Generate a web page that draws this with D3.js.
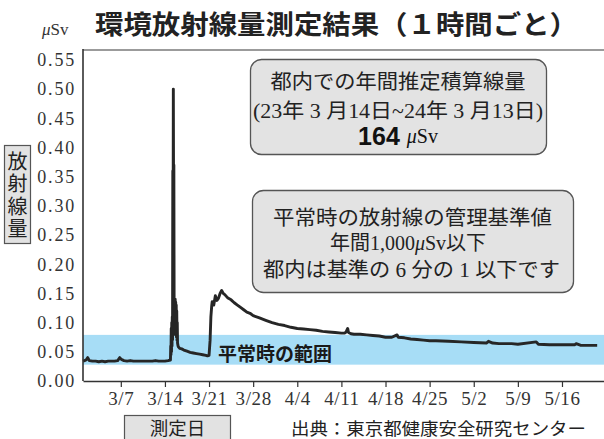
<!DOCTYPE html>
<html><head><meta charset="utf-8">
<script src="https://cdn.jsdelivr.net/npm/d3@7"></script>
<style>
html,body{margin:0;padding:0;background:#fff;}
svg{display:block;}
</style></head>
<body>
<svg id="chart" width="604" height="439"></svg>
<script>
// ---- data ----
const obsTimes = [
 "3/1 00","3/1 06","3/1 12","3/1 18","3/2 00","3/2 12","3/3 00","3/3 12","3/4 00","3/4 12",
 "3/5 00","3/5 12","3/6 00","3/6 12","3/6 20","3/7 02","3/7 12","3/8 00","3/8 12","3/9 00",
 "3/9 12","3/10 00","3/10 12","3/11 00","3/11 12","3/12 00","3/12 12","3/13 00","3/13 12","3/14 00",
 "3/14 12","3/14 21","3/14 22","3/14 23","3/15 00","3/15 01","3/15 02","3/15 03","3/15 04","3/15 05",
 "3/15 06","3/15 07","3/15 08","3/15 09","3/15 10","3/15 11","3/15 12","3/15 13","3/15 14","3/15 15",
 "3/15 16","3/15 17","3/15 18","3/15 19","3/15 20","3/15 21","3/15 22","3/15 23","3/16 00","3/16 02",
 "3/16 04","3/16 08","3/16 16","3/17 00","3/17 12","3/18 00","3/18 12","3/19 00","3/19 12","3/20 00",
 "3/20 12","3/20 18","3/21 00","3/21 04","3/21 07","3/21 10","3/21 12","3/21 18","3/22 00","3/22 06",
 "3/22 12","3/22 18","3/23 00","3/23 06","3/23 12","3/24 00","3/24 12","3/25 00","3/25 12","3/26 00",
 "3/26 12","3/27 00","3/27 12","3/28 00","3/29 00","3/30 00","3/31 00","4/1 00","4/2 00","4/3 00",
 "4/4 00","4/5 00","4/6 00","4/7 00","4/8 00","4/9 00","4/10 00","4/11 00","4/11 12","4/11 18",
 "4/12 00","4/12 03","4/12 12","4/13 00","4/14 00","4/15 00","4/16 00","4/17 00","4/18 00","4/19 00",
 "4/19 20","4/20 00","4/21 00","4/22 00","4/23 00","4/24 00","4/25 00","4/26 00","4/28 00","4/30 00",
 "5/2 00","5/4 00","5/4 08","5/5 00","5/6 00","5/8 00","5/9 00","5/11 22","5/12 06","5/14 00",
 "5/16 00","5/18 00","5/18 06","5/19 00","5/21 14"
];
const doseValues = [
 0.034,0.035,0.036,0.040,0.035,0.034,0.034,0.033,0.034,0.033,
 0.034,0.034,0.034,0.035,0.040,0.037,0.035,0.034,0.035,0.034,
 0.034,0.034,0.034,0.034,0.034,0.034,0.035,0.034,0.034,0.034,
 0.035,0.036,0.060,0.045,0.090,0.050,0.100,0.060,0.110,0.070,
 0.360,0.200,0.500,0.300,0.370,0.130,0.090,0.140,0.080,0.140,
 0.085,0.135,0.080,0.130,0.075,0.120,0.070,0.100,0.065,0.060,
 0.058,0.056,0.055,0.053,0.051,0.049,0.048,0.047,0.046,0.045,
 0.044,0.043,0.044,0.070,0.110,0.128,0.136,0.130,0.146,0.138,
 0.142,0.150,0.155,0.150,0.148,0.142,0.139,0.134,0.130,0.126,
 0.122,0.118,0.116,0.112,0.108,0.104,0.100,0.097,0.095,0.092,
 0.090,0.089,0.088,0.087,0.085,0.084,0.083,0.082,0.082,0.084,
 0.090,0.083,0.081,0.080,0.080,0.079,0.078,0.077,0.075,0.075,
 0.079,0.075,0.074,0.072,0.071,0.070,0.069,0.069,0.068,0.067,
 0.066,0.065,0.068,0.065,0.064,0.064,0.063,0.067,0.063,0.062,
 0.062,0.062,0.064,0.061,0.061
];
const normalRange = [0.028, 0.079];
const yTickValues = [0,0.05,0.10,0.15,0.20,0.25,0.30,0.35,0.40,0.45,0.50,0.55];
const xTickLabels = ["3/7","3/14","3/21","3/28","4/4","4/11","4/18","4/25","5/2","5/9","5/16"];
const domainStart = "3/1 00", domainEnd = "5/22 16";

// ---- setup ----
const parse = d3.timeParse("%Y/%m/%d %H");
const pt = s => parse("2011/" + s);
const pd = s => parse("2011/" + s + " 00");
const series = obsTimes.map((t,i)=>({t:pt(t), v:doseValues[i]}));

const svg = d3.select("#chart");
const L=83, R=604, T=50, B=381;
const x = d3.scaleTime().domain([pt(domainStart), pt(domainEnd)]).range([L,R]);
const y = d3.scaleLinear().domain([0, 0.567]).range([B,T]);

const sans = "'Noto Sans CJK JP','Noto Sans',sans-serif";
const serif = "'Liberation Serif','Noto Sans CJK JP',serif";

// normal range band
svg.append("rect")
  .attr("x", L).attr("width", R-L)
  .attr("y", y(normalRange[1])).attr("height", y(normalRange[0]) - y(normalRange[1]))
  .attr("fill", "#a7ddf6");

// top frame line
svg.append("line").attr("x1",L).attr("x2",R).attr("y1",T).attr("y2",T)
  .attr("stroke","#7a7a7a").attr("stroke-width",1.4);

// band label
svg.append("text").attr("x", 218).attr("y", y(0.0495))
  .attr("dominant-baseline","central")
  .attr("font-family", sans).attr("font-weight","bold").attr("font-size",19)
  .attr("fill","#1a1a1a").text("平常時の範囲");

// line
svg.append("path").datum(series)
  .attr("d", d3.line().x(d=>x(d.t)).y(d=>y(d.v)))
  .attr("fill","none").attr("stroke","#262626").attr("stroke-width",2.9)
  .attr("stroke-linejoin","round");

// y axis
const yAxis = svg.append("g").attr("transform",`translate(${L},0)`)
  .call(d3.axisLeft(y).tickValues(yTickValues).tickFormat(d3.format(".2f")).tickSize(0).tickPadding(7).tickSizeOuter(0));
yAxis.select(".domain").remove();
yAxis.selectAll("text").attr("font-family",serif).attr("font-size",18)
  .attr("letter-spacing","1.8px").attr("fill","#333");
svg.append("line").attr("x1",L).attr("x2",L).attr("y1",T-1).attr("y2",B)
  .attr("stroke","#333").attr("stroke-width",1.6);

// x axis
const xAxis = svg.append("g").attr("transform",`translate(0,${B})`)
  .call(d3.axisBottom(x).tickValues(xTickLabels.map(pd)).tickFormat(d3.timeFormat("%-m/%-d")).tickSize(6).tickPadding(5).tickSizeOuter(0));
xAxis.select(".domain").attr("stroke","#333").attr("stroke-width",1.6);
xAxis.selectAll(".tick line").attr("stroke","#333").attr("stroke-width",1.2);
xAxis.selectAll("text").attr("font-family",serif).attr("font-size",19)
  .attr("letter-spacing","0.6px").attr("fill","#333");

// title
svg.append("text").attr("x",95).attr("y",22).attr("dominant-baseline","central")
  .attr("font-family",sans).attr("font-weight","bold").attr("font-size",26)
  .attr("fill","#222").attr("textLength",483).attr("lengthAdjust","spacingAndGlyphs")
  .text("環境放射線量測定結果（１時間ごと）");
// unit
const unit = svg.append("text").attr("x",42).attr("y",29).attr("dominant-baseline","central")
  .attr("font-family",serif).attr("font-size",17).attr("fill","#333");
unit.append("tspan").attr("font-style","italic").text("μ");
unit.append("tspan").text("Sv");

// y label box (vertical text)
svg.append("rect").attr("x",4.5).attr("y",145.5).attr("width",26).attr("height",98)
  .attr("fill","#e2e2e2").attr("stroke","#555").attr("stroke-width",1.2);
svg.append("text").attr("x",17.5).attr("y",151)
  .style("writing-mode","vertical-rl").attr("letter-spacing","2.5px")
  .attr("font-family",sans).attr("font-size",20).attr("fill","#222").text("放射線量");

// x label box
svg.append("rect").attr("x",124.5).attr("y",415.5).attr("width",106).attr("height",26)
  .attr("fill","#e2e2e2").attr("stroke","#555").attr("stroke-width",1.2);
svg.append("text").attr("x",177.5).attr("y",427).attr("text-anchor","middle")
  .attr("dominant-baseline","central").attr("font-family",sans).attr("font-size",18.5)
  .attr("fill","#222").text("測定日");

// source
svg.append("text").attr("x",291).attr("y",427).attr("dominant-baseline","central")
  .attr("font-family",sans).attr("font-size",17.5).attr("fill","#222")
  .attr("textLength",295).attr("lengthAdjust","spacingAndGlyphs")
  .text("出典：東京都健康安全研究センター");

// info boxes
function box(x0,y0,x1,y1){
  svg.append("rect").attr("x",x0).attr("y",y0).attr("width",x1-x0).attr("height",y1-y0)
    .attr("rx",11).attr("ry",11).attr("fill","#e3e3e3").attr("stroke","#555").attr("stroke-width",1.3);
}
function line(txt,cx,cy,len,size){
  return svg.append("text").attr("x",cx).attr("y",cy).attr("text-anchor","middle")
    .attr("dominant-baseline","central").attr("font-family",serif).attr("font-size",size||20)
    .attr("fill","#222").attr("textLength",len).attr("lengthAdjust","spacingAndGlyphs").text(txt);
}
box(250.5,59.5,546.5,154.5);
line("都内での年間推定積算線量",398,82,255);
line("(23年 3 月14日~24年 3 月13日)",398,111,290);
const t164 = svg.append("text").attr("x",398).attr("y",136).attr("text-anchor","middle")
  .attr("dominant-baseline","central").attr("fill","#111");
t164.append("tspan").attr("font-family","'Liberation Sans',sans-serif").attr("font-weight","bold").attr("font-size",25).text("164 ");
t164.append("tspan").attr("font-family",serif).attr("font-size",20).attr("font-style","italic").text(" μ");
t164.append("tspan").attr("font-family",serif).attr("font-size",20).text("Sv");

box(252.5,190.5,573.5,292.5);
line("平常時の放射線の管理基準値",412.5,218,279);
const l2 = svg.append("text").attr("x",408).attr("y",243).attr("text-anchor","middle")
  .attr("dominant-baseline","central").attr("font-family",serif).attr("font-size",20).attr("fill","#222");
l2.append("tspan").text("年間1,000");
l2.append("tspan").attr("font-style","italic").text("μ");
l2.append("tspan").text("Sv以下");
line("都内は基準の 6 分の 1 以下です",411.5,270,297);
</script>
</body></html>
